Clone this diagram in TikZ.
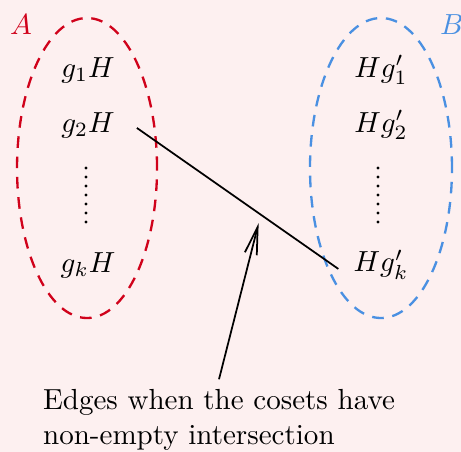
\documentclass[tikz,border=0pt]{standalone}
\usetikzlibrary{arrows.meta,calc}
\definecolor{setA}{RGB}{208,2,27}
\definecolor{setB}{RGB}{74,144,226}
\definecolor{paper}{RGB}{253,240,240}
\begin{document}
\begin{tikzpicture}[
  rim/.style={thick, dash pattern=on 4pt off 3pt},
  dotcol/.style={line width=1.1pt, line cap=round, dash pattern=on 0pt off 3.1pt},
  hint/.style={semithick, -{Straight Barb[length=9.5pt,width=4.2pt]}}
]
\fill[paper] (0,0) rectangle (5.578,5.469);
\useasboundingbox (0,0) rectangle (5.578,5.469);
% the two sets of cosets
\draw[rim, setA] (1.053,3.436) ellipse (0.847 and 1.815);
\draw[rim, setB] (4.610,3.436) ellipse (0.859 and 1.815);
\node[setA] (A) at (0.254,5.167) {$A$};
\node[setB] (B) at (5.469,5.167) {$B$};
% left cosets
\node (g1) at (1.065,4.622) {$g_1H$};
\node (g2) at (1.065,3.957) {$g_2H$};
\node (gk) at (1.065,2.263) {$g_kH$};
\draw[dotcol] (1.041,3.436) -- (1.041,2.780);
% right cosets
\node (h1) at (4.610,4.622) {$Hg'_1$};
\node (h2) at (4.610,3.957) {$Hg'_2$};
\node (hk) at (4.610,2.263) {$Hg'_k$};
\draw[dotcol] (4.574,3.436) -- (4.574,2.780);
% edge
\coordinate (e1) at ($(g2.east)+(0.144,-0.036)$);
\coordinate (e2) at ($(hk.west)+(-0.061,-0.048)$);
\draw[semithick] (e1) -- (e2);
\path (e1) -- (e2) coordinate[pos=0.615] (hit);
\node[align=left] (txt) at (2.650,0.387) {Edges when the cosets have\\non-empty intersection};
\draw[hint, shorten >=3pt] (txt.north) -- (hit);
\end{tikzpicture}
\end{document}
